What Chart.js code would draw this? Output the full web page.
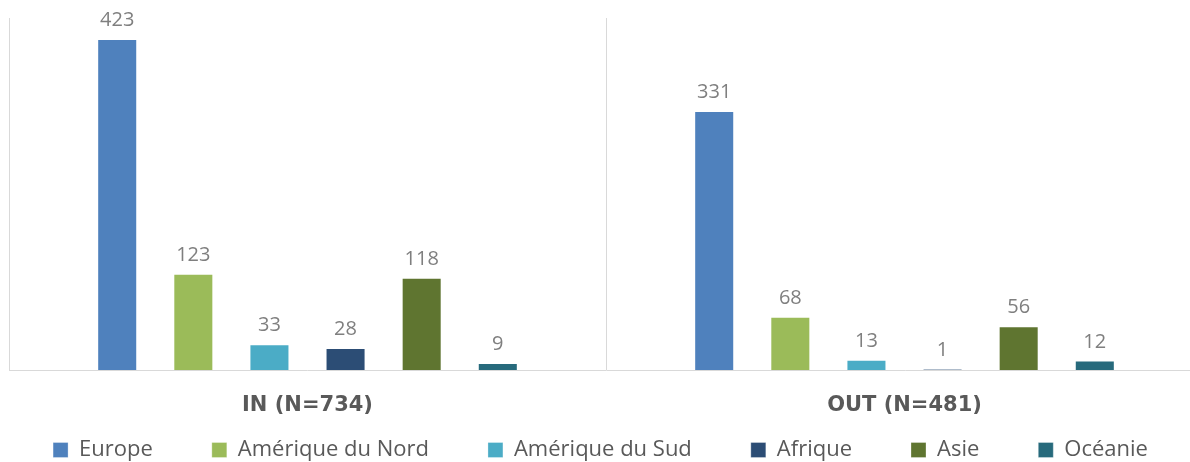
<!DOCTYPE html>
<html>
<head>
<meta charset="utf-8">
<script src="https://cdn.jsdelivr.net/npm/chart.js@4.4.1/dist/chart.umd.min.js"></script>
<style>
  html, body { margin: 0; padding: 0; background: #ffffff; overflow: hidden; width: 1190px; height: 462px; }
  canvas { display: block; }
</style>
</head>
<body>
<canvas id="c" width="1204" height="462"></canvas>
<script>
const categories = ['IN (N=734)', 'OUT (N=481)'];
const seriesNames = ['Europe', 'Amérique du Nord', 'Amérique du Sud', 'Afrique', 'Asie', 'Océanie'];
const europe = [423, 331];
const ameriqueNord = [123, 68];
const ameriqueSud = [33, 13];
const afrique = [28, 1];
const asie = [118, 56];
const oceanie = [9, 12];
const seriesColors = ['#4F81BD', '#9BBB59', '#4BACC6', '#2C4D75', '#5F7530', '#276A7C'];

const seriesValues = [europe, ameriqueNord, ameriqueSud, afrique, asie, oceanie];

const LEGEND_PAD = 59;
const LEGEND_H = 20;
const LEGEND_RAISE = 62;
const LEGEND_EXTRA_RIGHT = 40;
const LEGEND_SHIFT = 51;

// Keep legend on one row with wide item spacing, but limit its vertical footprint.
const legendFit = {
  id: 'legendFit',
  beforeLayout(chart) {
    const lg = chart.legend;
    if (lg && !lg._hfix) {
      const origFit = lg.fit;
      lg.fit = function () {
        this.maxWidth = 5000;
        origFit.call(this);
        this.height = LEGEND_H;
        if (this.lineWidths && this.lineWidths.length) this.lineWidths[0] += LEGEND_SHIFT;
      };
      const origDraw = lg.draw;
      lg.draw = function (area) {
        const t = this.top, r = this.right;
        this.top = t - LEGEND_RAISE;
        this.right = r + LEGEND_EXTRA_RIGHT;
        origDraw.call(this, area);
        this.top = t;
        this.right = r;
      };
      lg._hfix = true;
    }
  }
};

const valueLabels = {
  id: 'valueLabels',
  afterDatasetsDraw(chart) {
    const ctx = chart.ctx;
    ctx.save();
    ctx.font = '20px "Open Sans"';
    ctx.fillStyle = '#7f7f7f';
    ctx.textAlign = 'center';
    ctx.textBaseline = 'alphabetic';
    chart.data.datasets.forEach((ds, i) => {
      const meta = chart.getDatasetMeta(i);
      meta.data.forEach((bar, j) => {
        ctx.fillText(String(ds.data[j]), bar.x, bar.y - 13);
      });
    });
    ctx.restore();
  }
};

new Chart(document.getElementById('c'), {
  type: 'bar',
  data: {
    labels: categories,
    datasets: seriesNames.map((name, i) => ({
      label: name,
      data: seriesValues[i],
      backgroundColor: seriesColors[i],
      borderColor: 'rgba(255,255,255,0.3)',
      borderWidth: 1,
      categoryPercentage: 0.765,
      barPercentage: 0.526
    }))
  },
  options: {
    responsive: false,
    animation: false,
    devicePixelRatio: 1,
    layout: { padding: { left: 9, right: 1, top: 18, bottom: 0 } },
    scales: {
      x: {
        offset: true,
        grid: { display: true, color: '#d9d9d9', lineWidth: 1, offset: true, tickLength: 0, drawTicks: false },
        border: { display: true, color: '#d9d9d9', width: 1 },
        ticks: {
          color: '#595959',
          font: { family: '"DejaVu Sans"', size: 21, weight: 'bold' },
          padding: 23
        },
        afterFit(scale) { scale.height = 72; }
      },
      y: {
        display: false,
        min: 0,
        max: 450,
        grid: { display: false }
      }
    },
    plugins: {
      legend: {
        position: 'bottom',
        labels: {
          boxWidth: 15,
          boxHeight: 15,
          padding: LEGEND_PAD,
          color: '#595959',
          font: { family: '"Open Sans"', size: 22 }
        }
      },
      tooltip: { enabled: false },
      title: { display: false }
    }
  },
  plugins: [legendFit, valueLabels]
});
</script>
</body>
</html>
